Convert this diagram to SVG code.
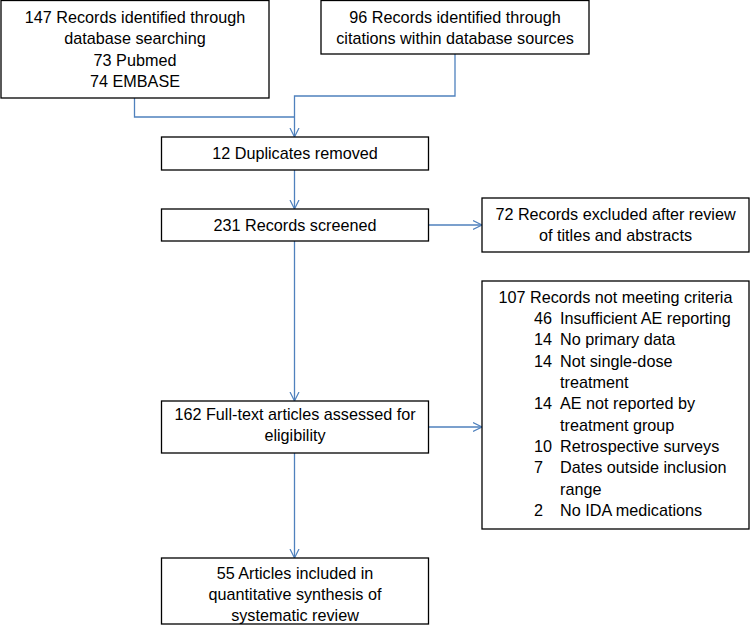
<svg xmlns="http://www.w3.org/2000/svg" width="750" height="634" viewBox="0 0 750 634">
<defs>
<style>
.box{fill:#fff;stroke:#000;stroke-width:1.3}
.t{font-family:"Liberation Sans",Arial,sans-serif;font-size:16.2px;fill:#000}
.c{text-anchor:middle}
.con{fill:none;stroke:#4F81BD;stroke-width:1.3}
</style>
<marker id="arr" markerUnits="userSpaceOnUse" markerWidth="12" markerHeight="12" refX="9.5" refY="6" orient="auto">
<path d="M0.5,1.5 L9.5,6 L0.5,10.5" fill="none" stroke="#4F81BD" stroke-width="1.2"/>
</marker>
</defs>
<rect width="750" height="634" fill="#fff"/>
<g id="connectors">
<path class="con" d="M134.5,98 V117 H294.5"/>
<path class="con" d="M455,54 V96 H294.5 V137" marker-end="url(#arr)"/>
<path class="con" d="M294.5,170 V209" marker-end="url(#arr)"/>
<path class="con" d="M428,225 H482" marker-end="url(#arr)"/>
<path class="con" d="M294.5,241 V401" marker-end="url(#arr)"/>
<path class="con" d="M428,427 H482" marker-end="url(#arr)"/>
<path class="con" d="M294.5,453 V558" marker-end="url(#arr)"/>
</g>
<g id="n1">
<rect class="box" x="1" y="0.5" width="268" height="97.5"/>
<text class="t c" x="135" y="23">147 Records identified through</text>
<text class="t c" x="135" y="44.3">database searching</text>
<text class="t c" x="135" y="65.6">73 Pubmed</text>
<text class="t c" x="135" y="87">74 EMBASE</text>
</g>
<g id="n2">
<rect class="box" x="321" y="0.5" width="268" height="53.5"/>
<text class="t c" x="455" y="23">96 Records identified through</text>
<text class="t c" x="455" y="44.3">citations within database sources</text>
</g>
<g id="n3">
<rect class="box" x="161.5" y="137" width="267" height="33"/>
<text class="t c" x="295" y="159">12 Duplicates removed</text>
</g>
<g id="n4">
<rect class="box" x="161.5" y="209" width="267" height="32"/>
<text class="t c" x="295" y="231">231 Records screened</text>
</g>
<g id="n5">
<rect class="box" x="482" y="198" width="267" height="54"/>
<text class="t c" x="615.5" y="219.5">72 Records excluded after review</text>
<text class="t c" x="615.5" y="241">of titles and abstracts</text>
</g>
<g id="n6">
<rect class="box" x="161.5" y="401" width="267" height="52"/>
<text class="t c" x="295" y="419.5">162 Full-text articles assessed for</text>
<text class="t c" x="295" y="441">eligibility</text>
</g>
<g id="n7">
<rect class="box" x="482" y="281" width="267" height="248"/>
<text class="t c" x="615.5" y="302.7">107 Records not meeting criteria</text>
<text class="t" x="534" y="324">46</text><text class="t" x="560" y="324">Insufficient AE reporting</text>
<text class="t" x="534" y="345.3">14</text><text class="t" x="560" y="345.3">No primary data</text>
<text class="t" x="534" y="366.7">14</text><text class="t" x="560" y="366.7">Not single-dose</text>
<text class="t" x="560" y="388">treatment</text>
<text class="t" x="534" y="409.3">14</text><text class="t" x="560" y="409.3">AE not reported by</text>
<text class="t" x="560" y="430.6">treatment group</text>
<text class="t" x="534" y="452">10</text><text class="t" x="560" y="452">Retrospective surveys</text>
<text class="t" x="534" y="473.3">7</text><text class="t" x="560" y="473.3">Dates outside inclusion</text>
<text class="t" x="560" y="494.6">range</text>
<text class="t" x="534" y="516">2</text><text class="t" x="560" y="516">No IDA medications</text>
</g>
<g id="n8">
<rect class="box" x="161.5" y="558" width="267" height="66"/>
<text class="t c" x="295" y="578.5">55 Articles included in</text>
<text class="t c" x="295" y="599.8">quantitative synthesis of</text>
<text class="t c" x="295" y="621">systematic review</text>
</g>
</svg>
